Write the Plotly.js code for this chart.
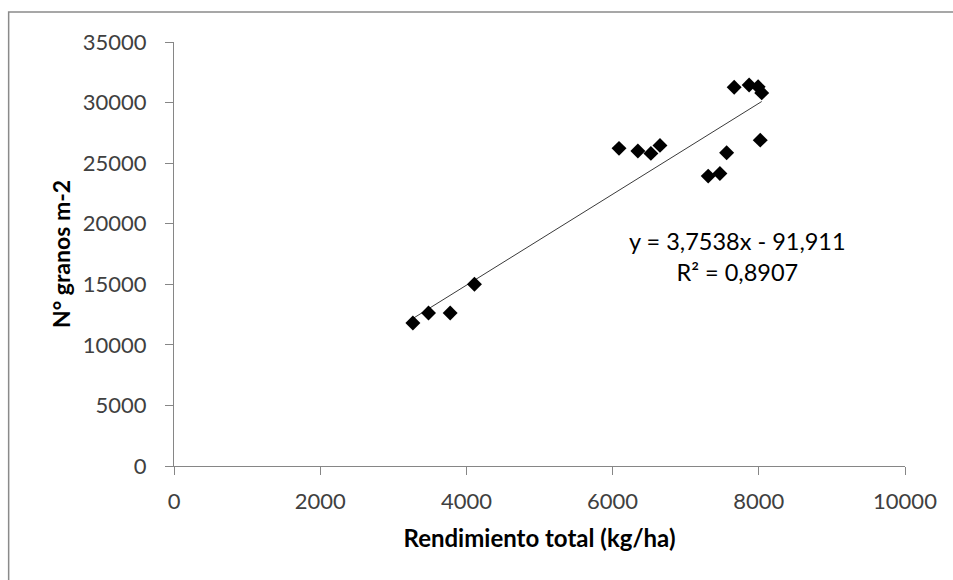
<!DOCTYPE html>
<html>
<head>
<meta charset="utf-8">
<script src="https://cdn.plot.ly/plotly-3.0.1.min.js"></script>
<style>
  html, body { margin: 0; padding: 0; background: #ffffff; }
  #chart { width: 953px; height: 580px; }
</style>
</head>
<body>
<div id="chart"></div>
<script>
// Data
const rendimiento = [3268, 3482, 3778, 4110, 6088, 6346, 6524, 6648, 7308, 7468, 7560, 7663, 7868, 7991, 8040, 8020];
const granos      = [11812, 12638, 12638, 15009, 26220, 25998, 25805, 26466, 23930, 24150, 25855, 31258, 31448, 31305, 30800, 26900];
const trendSlope = 3.7538;
const trendIntercept = -91.911;
const trendLabel = "y = 3,7538x - 91,911<br>R² = 0,8907";
const xTicks = [0, 2000, 4000, 6000, 8000, 10000];
const yTicks = [0, 5000, 10000, 15000, 20000, 25000, 30000, 35000];
const xTitle = "Rendimiento total (kg/ha)";
const yTitle = "N° granos m-2";

const xMin = Math.min(...rendimiento);
const xMax = Math.max(...rendimiento);
const trendX = [xMin, xMax];
const trendY = trendX.map(v => trendSlope * v + trendIntercept);

const font = "Lato, 'Open Sans', sans-serif";

const traces = [
  {
    x: trendX, y: trendY, mode: 'lines', type: 'scatter',
    line: { color: '#3a3a3a', width: 1 }, hoverinfo: 'skip', showlegend: false
  },
  {
    x: rendimiento, y: granos, mode: 'markers', type: 'scatter',
    marker: { symbol: 'diamond', size: 11.5, color: '#000000' }, showlegend: false
  }
];

const axisCommon = {
  showgrid: false, zeroline: false, showline: true,
  linecolor: '#868686', linewidth: 1,
  ticks: 'outside', ticklen: 8, tickwidth: 1, tickcolor: '#868686',
  tickfont: { family: font, size: 22, color: '#404040' }
};

const layout = {
  width: 953, height: 580,
  margin: { l: 173.5, r: 47.7, t: 42, b: 114.3 },
  paper_bgcolor: '#ffffff', plot_bgcolor: '#ffffff',
  xaxis: Object.assign({}, axisCommon, {
    range: [0, 10000], tickvals: xTicks, ticktext: xTicks.map(String),
    ticklabelstandoff: 8,
    title: { text: xTitle, font: { family: font, size: 24, color: '#000000', weight: 'bold' }, standoff: 16 }
  }),
  yaxis: Object.assign({}, axisCommon, {
    range: [0, 35000], tickvals: yTicks, ticktext: yTicks.map(String),
    ticklabelstandoff: 14,
    title: { text: yTitle, font: { family: font, size: 23, color: '#000000', weight: 'bold' }, standoff: 5 }
  }),
  annotations: [{
    xref: 'x', yref: 'y', x: 7714, y: 17322, text: trendLabel, showarrow: false,
    align: 'center', xanchor: 'center', yanchor: 'middle',
    font: { family: font, size: 23.5, color: '#000000' }
  }],
  shapes: [{
    type: 'rect', xref: 'paper', yref: 'paper',
    x0: -0.2262, x1: 1.5, y0: -0.8, y1: 1.0708,
    line: { color: '#8a8a8a', width: 1.5 }, fillcolor: 'rgba(0,0,0,0)', layer: 'below'
  }]
};

Plotly.newPlot('chart', traces, layout, { displayModeBar: false, staticPlot: true });
</script>
</body>
</html>
